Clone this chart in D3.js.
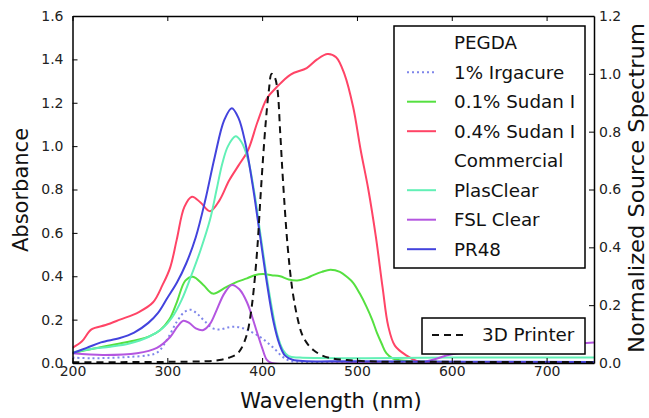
<!DOCTYPE html>
<html>
<head>
<meta charset="utf-8">
<script src="https://cdn.jsdelivr.net/npm/d3@7"></script>
<style>
  html, body { margin: 0; padding: 0; background: #fff; }
  svg { display: block; font-family: "DejaVu Sans", sans-serif; }
</style>
</head>
<body>
<svg id="chart" width="649" height="418"></svg>
<script>
// ---------- data ----------
const xTicks = [200, 300, 400, 500, 600, 700];
const yTicksLeft = [0, 0.2, 0.4, 0.6, 0.8, 1.0, 1.2, 1.4, 1.6];
const yTicksRight = [0, 0.2, 0.4, 0.6, 0.8, 1.0, 1.2];

const irgacureNm  = [200, 220, 240, 260, 280, 290, 300, 310, 318, 325, 332, 340, 348, 356, 364, 372, 380, 388, 396, 404, 412, 420, 428, 440, 600, 750];
const irgacureAbs = [0.025, 0.022, 0.024, 0.028, 0.036, 0.05, 0.11, 0.19, 0.235, 0.245, 0.225, 0.19, 0.16, 0.155, 0.164, 0.167, 0.16, 0.145, 0.125, 0.10, 0.07, 0.035, 0.012, 0.005, 0.003, 0.003];

const sudan01Nm  = [200, 215, 232, 250, 268, 282, 292, 302, 310, 319, 327, 338, 348, 362, 374, 384, 392, 401, 410, 419, 428, 437, 446, 454, 463, 472, 482, 490, 496, 503, 510, 516, 521, 526, 531, 538, 545, 560, 600, 750];
const sudan01Abs = [0.045, 0.06, 0.075, 0.09, 0.106, 0.125, 0.15, 0.20, 0.28, 0.38, 0.398, 0.36, 0.32, 0.35, 0.375, 0.39, 0.405, 0.41, 0.405, 0.40, 0.385, 0.38, 0.39, 0.405, 0.42, 0.43, 0.42, 0.395, 0.37, 0.32, 0.26, 0.20, 0.14, 0.09, 0.045, 0.02, 0.013, 0.008, 0.005, 0.005];

const sudan04Nm  = [200, 210, 220, 235, 250, 270, 285, 295, 303, 310, 318, 326, 335, 345, 355, 365, 375, 385, 395, 405, 415, 430, 447, 458, 469, 478, 487, 496, 504, 512, 520, 527, 533, 540, 552, 563, 580, 650, 750];
const sudan04Abs = [0.07, 0.10, 0.155, 0.175, 0.20, 0.235, 0.28, 0.36, 0.44, 0.57, 0.72, 0.767, 0.74, 0.70, 0.75, 0.84, 0.91, 0.98, 1.11, 1.22, 1.27, 1.33, 1.36, 1.40, 1.425, 1.41, 1.33, 1.18, 0.98, 0.80, 0.58, 0.35, 0.17, 0.08, 0.035, 0.01, 0.0, 0.0, 0.0];

const plasNm  = [200, 220, 240, 260, 280, 295, 305, 315, 325, 335, 345, 352, 358, 364, 372, 378, 385, 392, 398, 404, 410, 416, 422, 428, 440, 600, 750];
const plasAbs = [0.05, 0.065, 0.075, 0.09, 0.12, 0.16, 0.21, 0.29, 0.40, 0.52, 0.66, 0.80, 0.92, 1.00, 1.045, 1.02, 0.94, 0.78, 0.60, 0.42, 0.26, 0.13, 0.06, 0.032, 0.025, 0.025, 0.025];

const fslNm  = [200, 232, 268, 289, 303, 311, 317, 323, 330, 338, 345, 352, 360, 368, 376, 384, 394, 400, 405, 410, 500, 565, 580, 600, 650, 700, 750];
const fslAbs = [0.045, 0.037, 0.045, 0.07, 0.12, 0.17, 0.195, 0.185, 0.16, 0.152, 0.18, 0.244, 0.32, 0.36, 0.34, 0.28, 0.15, 0.07, 0.014, 0.0, 0.0, 0.0, 0.015, 0.04, 0.06, 0.08, 0.094];

const pr48Nm  = [200, 215, 230, 250, 265, 280, 290, 300, 310, 320, 330, 340, 350, 360, 368, 375, 382, 390, 398, 405, 412, 418, 424, 432, 500, 750];
const pr48Abs = [0.045, 0.07, 0.095, 0.115, 0.14, 0.185, 0.23, 0.30, 0.37, 0.46, 0.58, 0.75, 0.95, 1.12, 1.175, 1.13, 1.02, 0.82, 0.58, 0.37, 0.19, 0.09, 0.035, 0.015, 0.008, 0.005];

const printerNm   = [200, 250, 300, 340, 355, 365, 373, 378, 384, 388, 391, 395, 398, 401, 404, 407, 410, 413, 416, 419, 422, 427, 432, 437, 442, 448, 454, 462, 472, 490, 520, 600, 750];
const printerSpec = [0.003, 0.003, 0.004, 0.006, 0.01, 0.018, 0.03, 0.05, 0.10, 0.17, 0.25, 0.40, 0.56, 0.71, 0.84, 0.94, 1.0, 0.99, 0.95, 0.80, 0.63, 0.40, 0.25, 0.16, 0.10, 0.065, 0.045, 0.028, 0.017, 0.01, 0.005, 0.004, 0.003];

const legendLabels = ["PEGDA", "1% Irgacure", "0.1% Sudan I", "0.4% Sudan I", "Commercial", "PlasClear", "FSL Clear", "PR48"];
const printerLabel = "3D Printer";

// ---------- layout ----------
const W = 649, H = 418;
const L = 72.5, R = 594, T = 16, B = 363;

const svg = d3.select("#chart");
const x = d3.scaleLinear().domain([200, 750]).range([L, R]);
const yL = d3.scaleLinear().domain([0, 1.6]).range([B, T]);
const yR = d3.scaleLinear().domain([0, 1.2]).range([B, T]);

const series = [
  { nm: irgacureNm, v: irgacureAbs, color: "#7f86ea", dash: "2,3", label: legendLabels[1] },
  { nm: sudan01Nm,  v: sudan01Abs,  color: "#55e040", dash: null, label: legendLabels[2] },
  { nm: sudan04Nm,  v: sudan04Abs,  color: "#ff4466", dash: null, label: legendLabels[3] },
  { nm: plasNm,     v: plasAbs,     color: "#62f0b6", dash: null, label: legendLabels[5] },
  { nm: fslNm,      v: fslAbs,      color: "#b456e0", dash: null, label: legendLabels[6] },
  { nm: pr48Nm,     v: pr48Abs,     color: "#4343dd", dash: null, label: legendLabels[7] }
];

const clip = svg.append("clipPath").attr("id", "plotclip")
  .append("rect").attr("x", L).attr("y", T).attr("width", R - L).attr("height", B - T);

const plot = svg.append("g").attr("clip-path", "url(#plotclip)");

const lineL = d3.line().curve(d3.curveCatmullRom.alpha(0.5))
  .x(d => x(d[0])).y(d => yL(d[1]));
const lineR = d3.line().curve(d3.curveCatmullRom.alpha(0.5))
  .x(d => x(d[0])).y(d => yR(d[1]));

series.forEach(s => {
  const pts = s.nm.map((n, i) => [n, s.v[i]]);
  plot.append("path").attr("d", lineL(pts))
    .attr("fill", "none").attr("stroke", s.color).attr("stroke-width", 2)
    .attr("stroke-dasharray", s.dash).attr("stroke-linejoin", "round");
});

plot.append("path")
  .attr("d", lineR(printerNm.map((n, i) => [n, printerSpec[i]])))
  .attr("fill", "none").attr("stroke", "#111").attr("stroke-width", 2)
  .attr("stroke-dasharray", "7,5");

// ---------- axes ----------
const fmt = d3.format(".1f");
const axB = svg.append("g").attr("transform", `translate(0,${B})`)
  .call(d3.axisBottom(x).tickValues(xTicks).tickFormat(d3.format("d")).tickSize(-5).tickSizeOuter(0).tickPadding(3));
const axT = svg.append("g").attr("transform", `translate(0,${T})`)
  .call(d3.axisTop(x).tickValues(xTicks).tickFormat("").tickSize(-5).tickSizeOuter(0));
const axL = svg.append("g").attr("transform", `translate(${L},0)`)
  .call(d3.axisLeft(yL).tickValues(yTicksLeft).tickFormat(fmt).tickSize(-5).tickSizeOuter(0).tickPadding(9));
const axR = svg.append("g").attr("transform", `translate(${R},0)`)
  .call(d3.axisRight(yR).tickValues(yTicksRight).tickFormat(fmt).tickSize(-5).tickSizeOuter(0).tickPadding(5));

[axB, axT, axL, axR].forEach(a => {
  a.selectAll("path.domain").attr("stroke", "#000").attr("stroke-width", 1.5);
  a.selectAll(".tick line").attr("stroke", "#000").attr("stroke-width", 1);
  a.selectAll("text").attr("font-family", "DejaVu Sans, sans-serif").attr("font-size", 14).attr("fill", "#222");
});
// first x tick value shifted slightly like reference is fine

// ---------- axis titles ----------
svg.append("text").attr("x", 331).attr("y", 408).attr("text-anchor", "middle")
  .attr("font-size", 21).attr("fill", "#111").text("Wavelength (nm)");
svg.append("text").attr("transform", "translate(28,190) rotate(-90)").attr("text-anchor", "middle")
  .attr("font-size", 21).attr("fill", "#111").text("Absorbance");
svg.append("text").attr("transform", "translate(644,188) rotate(-90)").attr("text-anchor", "middle")
  .attr("font-size", 21).attr("fill", "#111")
  .attr("textLength", 330).attr("lengthAdjust", "spacingAndGlyphs")
  .text("Normalized Source Spectrum");

// ---------- legend 1 ----------
const lg = svg.append("g");
lg.append("rect").attr("x", 394).attr("y", 26).attr("width", 191).attr("height", 242)
  .attr("fill", "#fff").attr("stroke", "#000").attr("stroke-width", 1.5);
const legendRows = [
  { label: legendLabels[0], s: null },
  { label: legendLabels[1], s: series[0] },
  { label: legendLabels[2], s: series[1] },
  { label: legendLabels[3], s: series[2] },
  { label: legendLabels[4], s: null },
  { label: legendLabels[5], s: series[3] },
  { label: legendLabels[6], s: series[4] },
  { label: legendLabels[7], s: series[5] }
];
legendRows.forEach((r, i) => {
  const cy = 42.7 + i * 29.5;
  if (r.s) {
    lg.append("line").attr("x1", 407).attr("x2", 436).attr("y1", cy).attr("y2", cy)
      .attr("stroke", r.s.color).attr("stroke-width", 2).attr("stroke-dasharray", r.s.dash);
  }
  lg.append("text").attr("x", 454).attr("y", cy).attr("dy", "0.35em")
    .attr("font-size", 18.3).attr("fill", "#111").text(r.label);
});

// ---------- legend 2 ----------
const lg2 = svg.append("g");
lg2.append("rect").attr("x", 422).attr("y", 318).attr("width", 163).attr("height", 36)
  .attr("fill", "#fff").attr("stroke", "#000").attr("stroke-width", 1.5);
lg2.append("line").attr("x1", 432).attr("x2", 464).attr("y1", 335).attr("y2", 335)
  .attr("stroke", "#111").attr("stroke-width", 2).attr("stroke-dasharray", "7,5");
lg2.append("text").attr("x", 482).attr("y", 335).attr("dy", "0.35em")
  .attr("font-size", 18.3).attr("fill", "#111").text(printerLabel);
</script>
</body>
</html>
